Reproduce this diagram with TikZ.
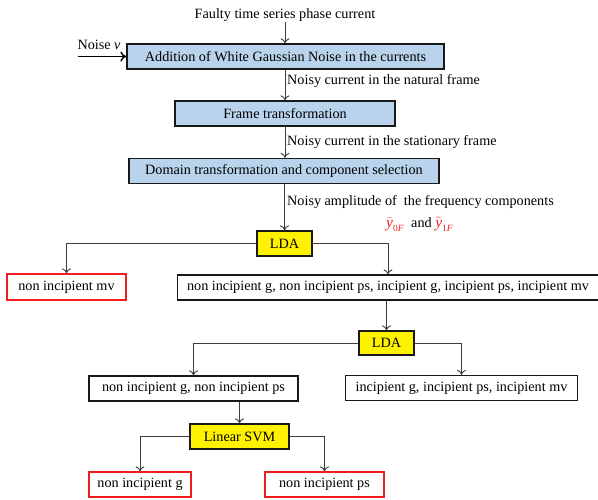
\documentclass[tikz,border=0pt]{standalone}
\usepackage{fontspec}
\setmainfont{Liberation Serif}
\usetikzlibrary{arrows.meta}
\definecolor{boxblue}{RGB}{185,211,236}
\definecolor{lineg}{RGB}{60,60,60}
\definecolor{redb}{RGB}{240,30,30}
\newcommand{\subf}{\fontsize{9.5}{10}\selectfont}
\newcommand{\yf}{\fontsize{15.5}{16}\selectfont\itshape y}
\begin{document}
\begin{tikzpicture}[x=1pt,y=-1pt,
  every node/.style={font=\fontsize{14.2}{16}\selectfont, inner sep=0pt},
  bluebox/.style={draw=black!90, line width=1.3pt, fill=boxblue, minimum height=25pt, anchor=center},
  ylbox/.style={draw=black!90, line width=1.3pt, fill=yellow, minimum height=25pt, anchor=center},
  whbox/.style={draw=black!90, line width=1.3pt, fill=white, minimum height=25pt, anchor=center},
  redbox/.style={draw=redb, line width=1.3pt, fill=white, minimum height=25pt, anchor=center},
  conn/.style={draw=lineg, line width=0.9pt, -{To[length=5pt,width=9pt]}},
  lbl/.style={anchor=west}
]
\useasboundingbox (0,0) rectangle (598,500);
\node (faulty) at (285,15) {Faulty time series phase current};
\node[bluebox, minimum width=317pt] (box1) at (285.5,56.5) {Addition of White Gaussian Noise in the currents};
\node (noise) at (99,45) {Noise \textit{v}};
\coordinate (nstart) at (78,56.5);
\node[bluebox, minimum width=220pt] (box2) at (285,113.5) {Frame transformation};
\node[bluebox, minimum width=310pt] (box3) at (284,171) {Domain transformation and component selection};
\node[ylbox, minimum width=55pt] (lda1) at (284.5,243.5) {LDA};
\node[redbox, minimum width=119pt, minimum height=26pt] (rmv) at (66.5,287) {non incipient mv};
\node[whbox, minimum width=421pt] (big) at (388,287.5) {non incipient g, non incipient ps, incipient g, incipient ps, incipient mv};
\node[ylbox, minimum width=55pt, minimum height=24pt] (lda2) at (386.5,343) {LDA};
\node[whbox, minimum width=209pt] (ng) at (193.5,388.5) {non incipient g, non incipient ps};
\node[whbox, minimum width=232pt] (ig) at (461.5,388) {incipient g, incipient ps, incipient mv};
\node[ylbox, minimum width=99pt] (svm) at (239.5,436.5) {Linear SVM};
\node[redbox, minimum width=102pt] (rg) at (140,484.5) {non incipient g};
\node[redbox, minimum width=119pt] (rps) at (324.5,484.5) {non incipient ps};
% labels
\node[lbl] (l1) at (287,81) {Noisy current in the natural frame};
\node[lbl] (l2) at (287,142) {Noisy current in the stationary frame};
\node[lbl] (l3) at (287,202.5) {Noisy amplitude of\ \ the frequency components};
\node[lbl] (l4) at (386,224) {\textcolor{redb}{$\widetilde{\mbox{\yf}}_{\mbox{\subf 0\itshape F}}$}\ \ and \textcolor{redb}{$\tilde{\mbox{\yf}}_{\mbox{\subf 1\itshape F}}$}};
% connectors
\draw[conn] (faulty.south) -- (faulty.south |- box1.north);
\draw[draw=black, line width=1.4pt, -{To[length=6pt,width=10pt]}] (nstart) -- (box1.west |- nstart);
\draw[conn] (box1.south -| box2.north) -- (box2.north);
\draw[conn] (box2.south) -- (box2.south |- box3.north);
\draw[conn] (box3.south -| lda1.north) -- (lda1.north);
\draw[conn] (lda1.west) -| (rmv.north);
\draw[conn] (lda1.east) -| (big.north);
\draw[conn] (big.south -| lda2.north) -- (lda2.north);
\draw[conn] (lda2.west) -| (ng.north);
\draw[conn] (lda2.east) -| (ig.north);
\draw[conn] (ng.south -| svm.north) -- (svm.north);
\draw[conn] (svm.west) -| (rg.north);
\draw[conn] (svm.east) -| (rps.north);
\end{tikzpicture}
\end{document}
